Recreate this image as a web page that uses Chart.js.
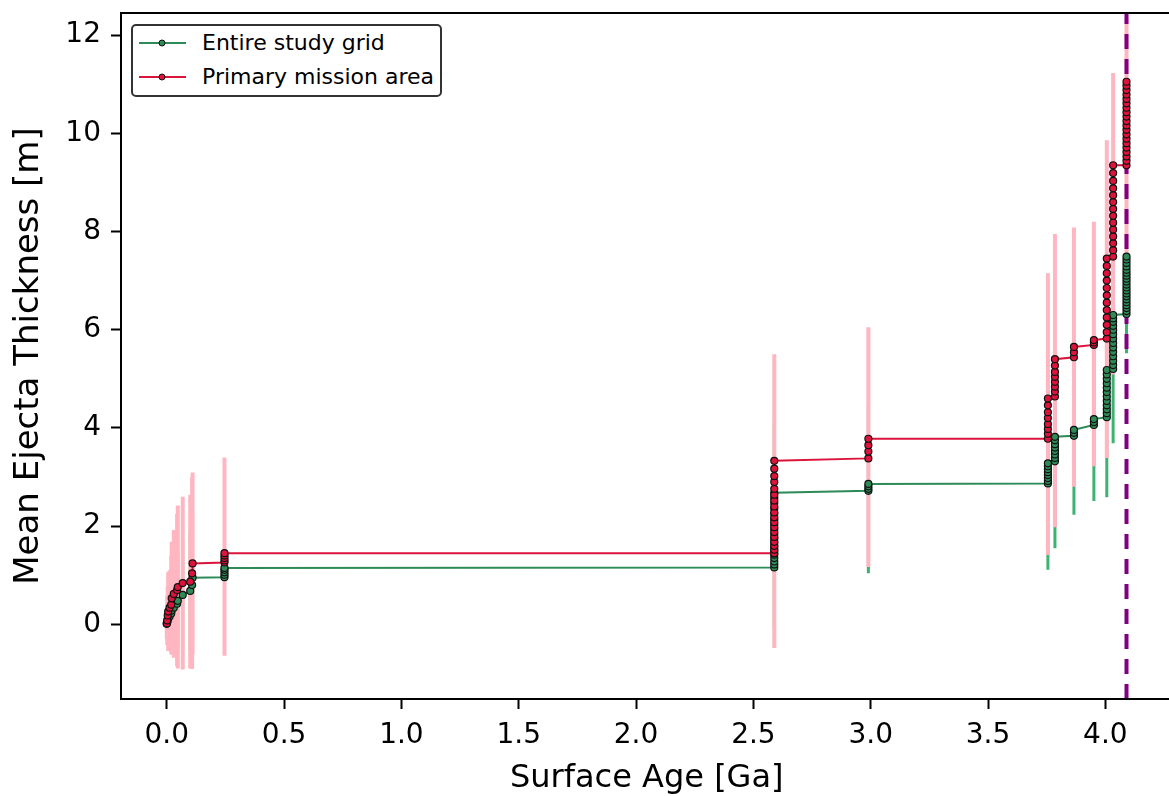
<!DOCTYPE html>
<html>
<head>
<meta charset="utf-8">
<script src="https://cdn.jsdelivr.net/npm/chart.js@4.4.1/dist/chart.umd.min.js"></script>
<style>
  html, body { margin: 0; padding: 0; background: #fff; }
  #wrap { position: relative; width: 1169px; height: 796px; overflow: hidden; }
  #holder { position: absolute; left: 0; top: 0; width: 1200px; height: 796px; }
  #legend {
    position: absolute; left: 131px; top: 24px; width: 307px; height: 69px;
    border: 2px solid #333; border-radius: 5px; background: #fff;
    font-family: 'DejaVu Sans', sans-serif; font-size: 22px; color: #000;
  }
  #legend .item { position: absolute; left: 0; height: 30px; width: 100%; }
  #legend svg { position: absolute; left: 6px; top: 9px; }
  #legend span { position: absolute; left: 69px; top: 1px; line-height: 28px; white-space: nowrap; }
</style>
</head>
<body>
<div id="wrap">
  <div id="holder"><canvas id="myChart" width="1200" height="796"></canvas></div>
  <div id="legend">
    <div class="item" style="top:2px">
      <svg width="48" height="12"><line x1="0" y1="6" x2="47" y2="6" stroke="#2E8B57" stroke-width="2"/><circle cx="23" cy="6" r="3" fill="#2E8B57" stroke="#111" stroke-width="1"/></svg>
      <span>Entire study grid</span>
    </div>
    <div class="item" style="top:36px">
      <svg width="48" height="12"><line x1="0" y1="6" x2="47" y2="6" stroke="#DC143C" stroke-width="2"/><circle cx="23" cy="6" r="3" fill="#DC143C" stroke="#111" stroke-width="1"/></svg>
      <span>Primary mission area</span>
    </div>
  </div>
</div>
<script>
/* data */
const ages = [
  0.000, 0.002, 0.004, 0.006, 0.012, 0.019, 0.021, 0.030, 0.044, 0.047, 0.068, 0.100, 0.108, 0.110,
  0.246, 0.246, 0.246, 0.246, 0.246,
  2.589, 2.589, 2.589, 2.589, 2.589, 2.589, 2.589, 2.589, 2.589, 2.589, 2.589, 2.589, 2.589, 2.589, 2.589, 2.589, 2.589, 2.589,
  2.990, 2.990, 2.990, 2.990,
  3.755, 3.755, 3.755, 3.755, 3.755, 3.755, 3.755, 3.755,
  3.785, 3.785, 3.785, 3.785, 3.785, 3.785, 3.785, 3.785,
  3.866, 3.866, 3.866,
  3.951, 3.951, 3.951,
  4.006, 4.006, 4.006, 4.006, 4.006, 4.006, 4.006, 4.006, 4.006, 4.006, 4.006, 4.006,
  4.033, 4.033, 4.033, 4.033, 4.033, 4.033, 4.033, 4.033, 4.033, 4.033, 4.033, 4.033, 4.033, 4.033,
  4.090, 4.090, 4.090, 4.090, 4.090, 4.090, 4.090, 4.090, 4.090, 4.090, 4.090, 4.090, 4.090, 4.090, 4.090, 4.090, 4.090, 4.090, 4.090, 4.090
];

const gridMean = [
  0.01, 0.04, 0.08, 0.12, 0.16, 0.22, 0.28, 0.34, 0.42, 0.48, 0.60, 0.68, 0.80, 0.95,
  0.96, 1.01, 1.06, 1.11, 1.15,
  1.16, 1.22, 1.28, 1.35, 1.42, 1.50, 1.58, 1.66, 1.75, 1.84, 1.94, 2.04, 2.14, 2.25, 2.36, 2.47, 2.58, 2.68,
  2.72, 2.76, 2.81, 2.86,
  2.87, 2.92, 2.98, 3.04, 3.10, 3.16, 3.22, 3.28,
  3.32, 3.39, 3.46, 3.53, 3.60, 3.67, 3.75, 3.82,
  3.84, 3.90, 3.96,
  4.06, 4.12, 4.18,
  4.22, 4.30, 4.38, 4.46, 4.55, 4.64, 4.73, 4.82, 4.91, 5.00, 5.09, 5.18,
  5.20, 5.28, 5.37, 5.46, 5.55, 5.64, 5.73, 5.82, 5.91, 6.00, 6.08, 6.16, 6.23, 6.30,
  6.32, 6.38, 6.44, 6.50, 6.56, 6.62, 6.68, 6.74, 6.80, 6.86, 6.92, 6.98, 7.04, 7.10, 7.16, 7.22, 7.29, 7.36, 7.43, 7.49
];
const gridErr = [
  0.30, 0.35, 0.40, 0.45, 0.50, 0.60, 0.70, 0.80, 0.90, 1.00, 1.10, 1.20, 1.30, 1.40,
  1.30, 1.30, 1.30, 1.30, 1.30,
  1.25, 1.25, 1.28, 1.28, 1.30, 1.30, 1.32, 1.32, 1.34, 1.34, 1.36, 1.36, 1.38, 1.38, 1.40, 1.40, 1.42, 1.42,
  1.68, 1.66, 1.63, 1.60,
  1.76, 1.74, 1.72, 1.70, 1.70, 1.68, 1.68, 1.66,
  1.77, 1.76, 1.74, 1.72, 1.70, 1.68, 1.66, 1.65,
  1.61, 1.58, 1.55,
  1.55, 1.52, 1.50,
  1.63, 1.62, 1.61, 1.60, 1.59, 1.58, 1.57, 1.56, 1.55, 1.54, 1.53, 1.52,
  1.51, 1.48, 1.46, 1.44, 1.42, 1.40, 1.38, 1.36, 1.35, 1.34, 1.33, 1.32, 1.31, 1.30,
  0.80, 0.78, 0.76, 0.74, 0.72, 0.70, 0.68, 0.66, 0.64, 0.62, 0.60, 0.60, 0.60, 0.60, 0.60, 0.60, 0.60, 0.60, 0.60, 0.60
];

const missionMean = [
  0.02, 0.08, 0.18, 0.26, 0.34, 0.40, 0.53, 0.62, 0.70, 0.76, 0.84, 0.87, 1.04, 1.24,
  1.26, 1.30, 1.35, 1.40, 1.45,
  1.45, 1.52, 1.60, 1.68, 1.78, 1.88, 1.98, 2.08, 2.18, 2.28, 2.40, 2.52, 2.64, 2.76, 2.90, 3.02, 3.17, 3.33,
  3.38, 3.52, 3.65, 3.78,
  3.78, 3.88, 3.98, 4.08, 4.20, 4.32, 4.46, 4.60,
  4.64, 4.74, 4.84, 4.94, 5.04, 5.14, 5.27, 5.40,
  5.44, 5.54, 5.65,
  5.69, 5.74, 5.79,
  5.82, 5.95, 6.10, 6.25, 6.40, 6.55, 6.70, 6.85, 7.00, 7.15, 7.30, 7.45,
  7.49, 7.62, 7.76, 7.90, 8.04, 8.18, 8.32, 8.46, 8.60, 8.74, 8.88, 9.03, 9.19, 9.35,
  9.35, 9.44, 9.53, 9.62, 9.71, 9.80, 9.89, 9.98, 10.07, 10.16, 10.25, 10.34, 10.43, 10.52, 10.61, 10.70, 10.79, 10.88, 10.97, 11.05
];
const missionErr = [
  0.30, 0.50, 0.60, 0.80, 0.76, 1.00, 1.15, 1.30, 1.55, 1.66, 1.76, 1.77, 1.95, 1.85,
  1.90, 1.85, 1.88, 1.92, 1.95,
  1.93, 2.00, 2.02, 2.05, 2.05, 2.08, 2.08, 2.10, 2.10, 2.10, 2.12, 2.12, 2.12, 2.14, 2.14, 2.15, 2.16, 2.17,
  2.21, 2.24, 2.26, 2.27,
  2.37, 2.40, 2.42, 2.45, 2.48, 2.50, 2.52, 2.55,
  2.66, 2.64, 2.62, 2.60, 2.58, 2.56, 2.56, 2.55,
  2.64, 2.50, 2.41,
  2.47, 2.44, 2.41,
  2.43, 2.43, 2.42, 2.42, 2.42, 2.42, 2.41, 2.41, 2.41, 2.41, 2.41, 2.41,
  2.40, 2.30, 2.20, 2.10, 2.00, 2.00, 1.95, 1.95, 1.90, 1.90, 1.90, 1.90, 1.88, 1.88,
  1.85, 1.80, 1.75, 1.70, 1.65, 1.60, 1.55, 1.50, 1.45, 1.45, 1.40, 1.40, 1.40, 1.35, 1.35, 1.35, 1.30, 1.30, 1.30, 1.30
];

const markerAge = 4.09;   // dashed vertical line
const xTicks = [0, 0.5, 1, 1.5, 2, 2.5, 3, 3.5, 4];
const yTicks = [0, 2, 4, 6, 8, 10, 12];
const xRange = [-0.195, 4.286];
const yRange = [-1.52, 12.45];

// points for a series, and its error bars as vertical segments split by gaps
function points(means) {
    return ages.map((a, i) => ({ x: a, y: means[i] }));
}
function errSegments(means, errs) {
    const out = [];
    ages.forEach((a, i) => {
        out.push({ x: a, y: means[i] - errs[i] }, { x: a, y: means[i] + errs[i] }, { x: a, y: null });
    });
    return out;
}

// box around the plot area (matplotlib spines)
const frame = {
    id: 'frame',
    afterDraw(chart) {
        const { ctx, chartArea: a } = chart;
        ctx.save();
        ctx.strokeStyle = '#000';
        ctx.lineWidth = 2;
        ctx.strokeRect(a.left, a.top, a.right - a.left, a.bottom - a.top);
        ctx.restore();
    }
};

Chart.defaults.font.family = "'DejaVu Sans', sans-serif";
Chart.defaults.color = '#000';

const ctx = document.getElementById('myChart');
new Chart(ctx, {
    type: 'line',
    data: {
        datasets: [
            {
                label: 'Primary mission area',
                data: points(missionMean),
                borderColor: '#DC143C',
                backgroundColor: '#DC143C',
                borderWidth: 2,
                pointRadius: 3.5,
                pointBorderWidth: 1.2,
                pointBorderColor: '#111',
                pointBackgroundColor: '#DC143C',
                tension: 0
            },
            {
                label: 'Entire study grid',
                data: points(gridMean),
                borderColor: '#2E8B57',
                backgroundColor: '#2E8B57',
                borderWidth: 2,
                pointRadius: 3.5,
                pointBorderWidth: 1.2,
                pointBorderColor: '#111',
                pointBackgroundColor: '#2E8B57',
                tension: 0
            },
            {
                label: 'marker',
                data: [{ x: markerAge, y: yRange[0] }, { x: markerAge, y: yRange[1] }],
                borderColor: '#800080',
                borderWidth: 4,
                borderDash: [15, 10],
                pointRadius: 0
            },
            {
                label: 'mission err',
                data: errSegments(missionMean, missionErr),
                borderColor: '#FFB6C1',
                borderWidth: 4,
                borderCapStyle: 'butt',
                pointRadius: 0,
                spanGaps: false
            },
            {
                label: 'grid err',
                data: errSegments(gridMean, gridErr),
                borderColor: '#3CB371',
                borderWidth: 3,
                borderCapStyle: 'butt',
                pointRadius: 0,
                spanGaps: false
            }
        ]
    },
    options: {
        responsive: false,
        animation: false,
        events: [],
        layout: { padding: { left: 0, top: 13, right: 27.5, bottom: 0 } },
        plugins: { legend: { display: false }, tooltip: { enabled: false } },
        scales: {
            x: {
                type: 'linear',
                min: xRange[0],
                max: xRange[1],
                afterBuildTicks: s => { s.ticks = xTicks.map(v => ({ value: v })); },
                afterFit: s => { s.height = 97; s.paddingLeft = 0; s.paddingRight = 0; },
                grid: { drawOnChartArea: false, drawTicks: true, tickLength: 10, tickWidth: 2, tickColor: '#000', color: '#000' },
                border: { display: false },
                ticks: { font: { size: 28 }, color: '#000', padding: 10, maxRotation: 0, autoSkip: false,
                         callback: v => Number(v).toFixed(1) },
                title: { display: true, text: 'Surface Age [Ga]', font: { size: 32 }, color: '#000',
                         padding: { top: 0, bottom: -2 } }
            },
            y: {
                type: 'linear',
                min: yRange[0],
                max: yRange[1],
                stacked: false,
                afterBuildTicks: s => { s.ticks = yTicks.map(v => ({ value: v })); },
                afterFit: s => { s.width = 121; s.paddingTop = 0; s.paddingBottom = 0; },
                grid: { drawOnChartArea: false, drawTicks: true, tickLength: 10, tickWidth: 2, tickColor: '#000', color: '#000' },
                border: { display: false },
                ticks: { font: { size: 28 }, color: '#000', padding: 10, autoSkip: false,
                         callback: v => String(v) },
                title: { display: true, text: 'Mean Ejecta Thickness [m]', font: { size: 34 }, color: '#000',
                         padding: { top: 9, bottom: 0 } }
            }
        }
    },
    plugins: [frame]
});
</script>
</body>
</html>
